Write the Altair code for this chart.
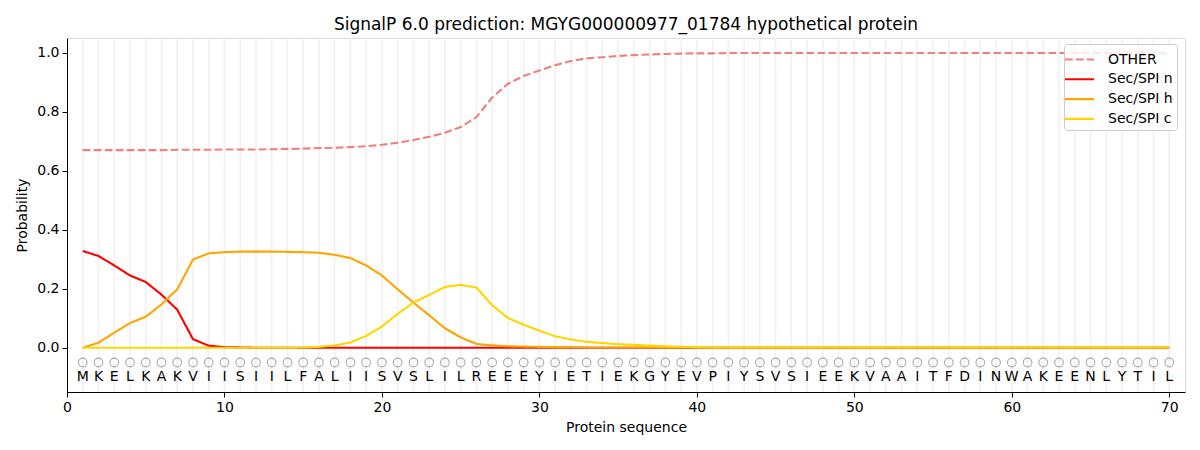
import altair as alt
import pandas as pd

sequence = "MKELKAKVIISIILFALIISVSLILREEEYIETIEKGYEVPIYSVSIEEKVAAITFDINWAKEENLYTIL"
positions = list(range(1, 71))

other = [0.670, 0.670, 0.670, 0.670, 0.670, 0.670, 0.671, 0.671, 0.671, 0.672,
         0.672, 0.672, 0.673, 0.674, 0.675, 0.677, 0.678, 0.680, 0.683, 0.688,
         0.695, 0.704, 0.715, 0.729, 0.748, 0.782, 0.848, 0.895, 0.921, 0.940,
         0.958, 0.972, 0.981, 0.985, 0.989, 0.992, 0.994, 0.996, 0.997, 0.998,
         0.998, 0.999, 0.999, 0.999, 0.999, 0.999, 0.999, 0.999, 0.999, 0.999,
         0.999, 0.999, 0.999, 0.999, 0.999, 0.999, 0.999, 0.999, 0.999, 0.999,
         0.999, 0.999, 0.999, 0.999, 0.999, 0.999, 0.999, 0.999, 0.998, 0.998]
sec_n = [0.328, 0.311, 0.279, 0.245, 0.223, 0.180, 0.129, 0.029, 0.007, 0.002,
         0.001, 0.0, 0.0, 0.0, 0.0, 0.0, 0.0, 0.0, 0.0, 0.0,
         0.0, 0.0, 0.0, 0.0, 0.0, 0.0, 0.0, 0.0, 0.0, 0.0,
         0.0, 0.0, 0.0, 0.0, 0.0, 0.0, 0.0, 0.0, 0.0, 0.0,
         0.0, 0.0, 0.0, 0.0, 0.0, 0.0, 0.0, 0.0, 0.0, 0.0,
         0.0, 0.0, 0.0, 0.0, 0.0, 0.0, 0.0, 0.0, 0.0, 0.0,
         0.0, 0.0, 0.0, 0.0, 0.0, 0.0, 0.0, 0.0, 0.0, 0.0]
sec_h = [0.000, 0.017, 0.051, 0.084, 0.105, 0.147, 0.198, 0.299, 0.320, 0.324,
         0.326, 0.326, 0.326, 0.325, 0.324, 0.322, 0.315, 0.304, 0.279, 0.245,
         0.198, 0.153, 0.110, 0.066, 0.035, 0.013, 0.008, 0.005, 0.004, 0.003,
         0.002, 0.002, 0.001, 0.001, 0.001, 0.001, 0.001, 0.001, 0.001, 0.001,
         0.001, 0.001, 0.001, 0.001, 0.001, 0.001, 0.001, 0.001, 0.001, 0.001,
         0.001, 0.001, 0.001, 0.001, 0.001, 0.001, 0.001, 0.001, 0.001, 0.001,
         0.001, 0.001, 0.001, 0.001, 0.001, 0.001, 0.001, 0.001, 0.001, 0.001]
sec_c = [0.000, 0.000, 0.000, 0.000, 0.000, 0.000, 0.000, 0.000, 0.000, 0.000,
         0.000, 0.000, 0.000, 0.000, 0.001, 0.003, 0.008, 0.018, 0.040, 0.072,
         0.115, 0.153, 0.179, 0.206, 0.213, 0.204, 0.144, 0.101, 0.078, 0.058,
         0.039, 0.028, 0.020, 0.016, 0.012, 0.010, 0.007, 0.005, 0.003, 0.002,
         0.001, 0.001, 0.001, 0.001, 0.001, 0.001, 0.001, 0.001, 0.001, 0.001,
         0.001, 0.001, 0.001, 0.001, 0.001, 0.001, 0.001, 0.001, 0.001, 0.001,
         0.001, 0.001, 0.001, 0.001, 0.001, 0.001, 0.001, 0.001, 0.001, 0.001]

series_names = ["OTHER", "Sec/SPI n", "Sec/SPI h", "Sec/SPI c"]
series_colors = ["#F08080", "#FF0000", "#FFA500", "#FFD700"]
x_ticks = [0, 10, 20, 30, 40, 50, 60, 70]
y_ticks = [0.0, 0.2, 0.4, 0.6, 0.8, 1.0]

rows = []
for name, vals in zip(series_names, [other, sec_n, sec_h, sec_c]):
    for p, v in zip(positions, vals):
        rows.append({"pos": p, "prob": v, "series": name})
lines_df = pd.DataFrame(rows)

seq_df = pd.DataFrame({
    "pos": positions,
    "aa": list(sequence),
    "circle_y": [-0.05] * len(positions),
    "text_y": [-0.1] * len(positions),
})

FONT = "DejaVu Sans"
xscale = alt.Scale(domain=[0, 71], nice=False, zero=False)
yscale = alt.Scale(domain=[-0.15, 1.05], nice=False, zero=False)

xaxis = alt.Axis(values=x_ticks, title="Protein sequence", grid=False, format="d",
                 labelFont=FONT, labelFontSize=14, titleFont=FONT, titleFontSize=14,
                 titleFontWeight="normal", labelColor="black", titleColor="black",
                 tickColor="black", domainColor="black", tickSize=5, labelPadding=3,
                 titlePadding=6, labelFlush=False)
yaxis = alt.Axis(values=y_ticks, title="Probability", grid=False, format=".1f",
                 labelFont=FONT, labelFontSize=14, titleFont=FONT, titleFontSize=14,
                 titleFontWeight="normal", labelColor="black", titleColor="black",
                 tickColor="black", domainColor="black", tickSize=5, labelPadding=3,
                 titlePadding=7, labelFlush=False)

grid = alt.Chart(seq_df).mark_rule(color="#f1f1f1", strokeWidth=1.6).encode(
    x=alt.X("pos:Q", scale=xscale, axis=xaxis),
    y=alt.value(0), y2=alt.value(354),
)

lines = alt.Chart(lines_df).mark_line(strokeWidth=2.1).encode(
    x=alt.X("pos:Q", scale=xscale, axis=xaxis),
    y=alt.Y("prob:Q", scale=yscale, axis=yaxis),
    color=alt.Color("series:N", sort=series_names,
                    scale=alt.Scale(domain=series_names, range=series_colors),
                    legend=alt.Legend(title=None, orient="none", legendX=997, legendY=6,
                                      symbolType="M-1.45,0H1.45", symbolStrokeWidth=2.1,
                                      symbolSize=400, labelFont=FONT, labelFontSize=14,
                                      labelColor="black", labelOffset=17, rowPadding=0.8,
                                      padding=4, fillColor="rgba(255,255,255,0.8)",
                                      strokeColor="#cccccc", cornerRadius=3)),
    strokeDash=alt.StrokeDash("series:N", sort=series_names,
                              scale=alt.Scale(domain=series_names,
                                              range=[[7.7, 3.3], [1, 0], [1, 0], [1, 0]]),
                              legend=None),
    detail="series:N",
    order=alt.Order("pos:Q"),
)

circles = alt.Chart(seq_df).mark_point(shape="circle", filled=False, size=75,
                                       color="#888888", strokeWidth=1.1).encode(
    x=alt.X("pos:Q", scale=xscale, axis=xaxis),
    y=alt.Y("circle_y:Q", scale=yscale, axis=yaxis),
)

letters = alt.Chart(seq_df).mark_text(font=FONT, fontSize=14, color="black",
                                      baseline="middle", align="center").encode(
    x=alt.X("pos:Q", scale=xscale, axis=xaxis),
    y=alt.Y("text_y:Q", scale=yscale, axis=yaxis),
    text="aa:N",
)

chart = alt.layer(grid, lines, circles, letters).properties(
    width=1118, height=354,
    title=alt.TitleParams("SignalP 6.0 prediction: MGYG000000977_01784 hypothetical protein",
                          font=FONT, fontSize=17, fontWeight="normal", color="black",
                          anchor="middle", offset=3),
    autosize=alt.AutoSizeParams(type="none"),
    padding={"left": 59, "top": 30, "right": 5, "bottom": 48},
).configure_view(stroke="black", strokeWidth=1.1).configure(background="white")

chart.save("out.html", embed_options={"renderer": "svg", "actions": False})
